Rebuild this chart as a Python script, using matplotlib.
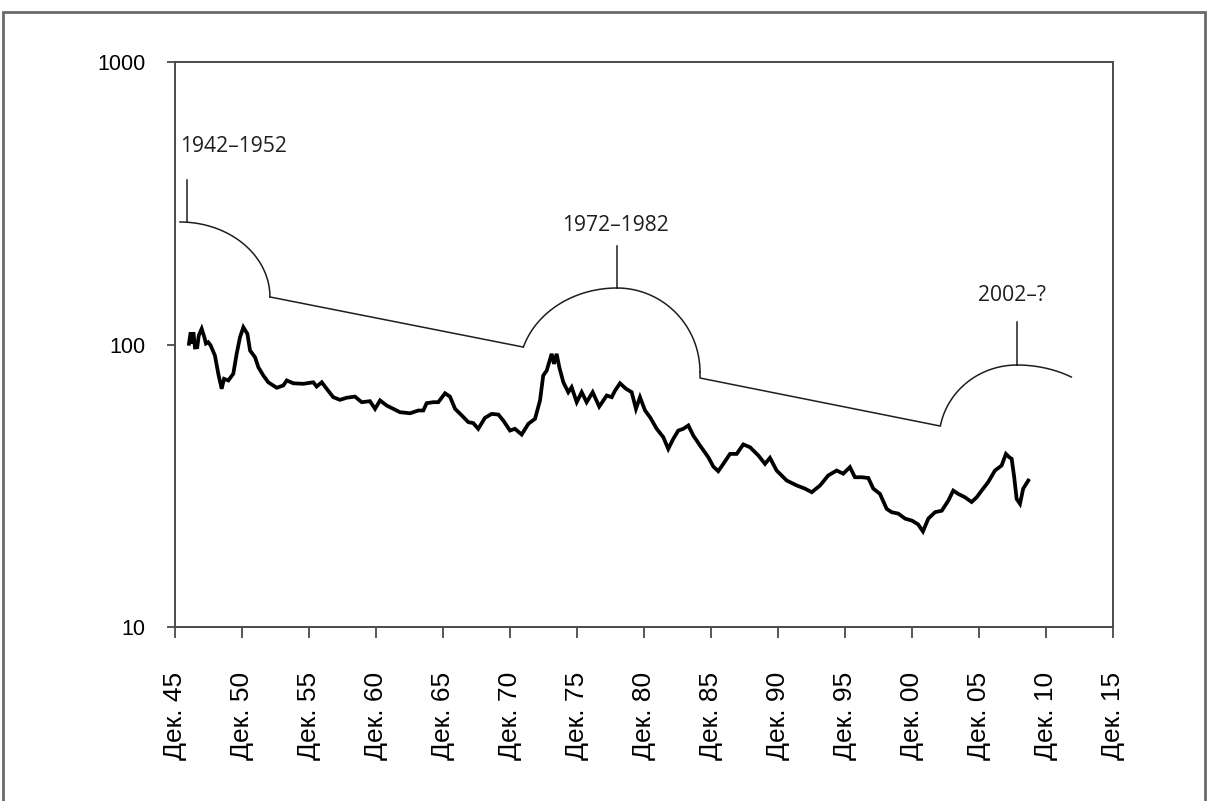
import numpy as np
import matplotlib
matplotlib.use("Agg")
import matplotlib.pyplot as plt
from matplotlib.patches import Rectangle

# monthly index level (log scale), decimal years
years = [1946.96, 1947.09, 1947.19, 1947.29, 1947.41, 1947.58, 1947.69, 1947.91, 1948.11, 1948.23,
         1948.40, 1948.58, 1948.90, 1949.15, 1949.40, 1949.58, 1949.90, 1950.27, 1950.52, 1950.77,
         1951.02, 1951.32, 1951.52, 1951.89, 1952.14, 1952.51, 1952.88, 1953.51, 1954.00, 1954.26,
         1954.75, 1955.49, 1956.24, 1956.49, 1956.87, 1957.24, 1957.73, 1958.23, 1958.73, 1959.35,
         1959.85, 1960.47, 1960.85, 1961.22, 1961.72, 1962.21, 1962.71, 1963.46, 1964.08, 1964.45,
         1964.70, 1965.20, 1965.57, 1966.07, 1966.44, 1966.82, 1967.32, 1967.81, 1968.18, 1968.55,
         1969.05, 1969.55, 1970.05, 1970.42, 1970.92, 1971.29, 1971.79, 1972.29, 1972.79, 1973.16,
         1973.40, 1973.66, 1974.03, 1974.20, 1974.40, 1974.60, 1974.90, 1975.27, 1975.52, 1975.90,
         1976.27, 1976.64, 1977.09, 1977.58, 1978.14, 1978.51, 1978.76, 1979.13, 1979.58, 1980.00,
         1980.32, 1980.62, 1981.00, 1981.37, 1981.87, 1982.36, 1982.73, 1983.11, 1983.48, 1983.85,
         1984.23, 1984.60, 1985.10, 1985.72, 1986.09, 1986.46, 1986.84, 1987.34, 1987.84, 1988.33,
         1988.83, 1989.45, 1989.95, 1990.32, 1990.82, 1991.57, 1992.32, 1992.93, 1993.44, 1994.06,
         1994.67, 1995.30, 1995.79, 1996.29, 1996.66, 1997.16, 1997.66, 1998.03, 1998.53, 1999.03,
         1999.40, 1999.90, 2000.40, 2000.92, 2001.37, 2001.74, 2002.14, 2002.64, 2003.14, 2003.63,
         2004.00, 2004.37, 2004.87, 2005.37, 2005.75, 2006.12, 2006.61, 2007.11, 2007.61, 2007.93,
         2008.18, 2008.36, 2008.55, 2008.73, 2008.98, 2009.22, 2009.60]
values = [100.6, 110.5, 100.8, 110.5, 97.6, 97.8, 107.6, 113.7, 106.1, 100.8,
          101.9, 99.2, 91.4, 78.8, 69.7, 75.6, 74.6, 78.8, 92.7, 106.1,
          115.1, 109.1, 95.2, 90.2, 83.1, 77.7, 73.5, 70.3, 71.6, 74.6,
          72.9, 72.6, 73.5, 71.0, 73.5, 69.7, 65.1, 63.7, 64.8, 65.4,
          62.5, 63.0, 59.2, 63.4, 60.8, 59.2, 57.6, 57.1, 58.4, 58.4,
          62.0, 62.5, 62.5, 67.2, 65.4, 59.2, 56.1, 53.1, 52.7, 50.3,
          55.0, 56.8, 56.5, 53.8, 49.6, 50.3, 48.0, 52.4, 54.6, 63.4,
          77.7, 80.9, 92.7, 85.4, 92.7, 83.1, 73.5, 67.8, 70.6, 62.5,
          67.8, 62.5, 67.8, 60.3, 66.0, 65.1, 68.7, 72.9, 69.7, 67.8,
          59.2, 65.1, 58.4, 55.3, 50.3, 47.0, 42.7, 46.4, 49.6, 50.3,
          51.7, 47.6, 43.9, 39.9, 37.0, 35.6, 37.8, 41.0, 41.0, 44.3,
          43.3, 40.5, 37.8, 39.7, 35.8, 33.0, 31.7, 30.9, 30.0, 31.7,
          34.4, 35.8, 34.9, 36.8, 33.9, 33.9, 33.7, 30.9, 29.6, 26.2,
          25.5, 25.2, 24.2, 23.8, 23.1, 21.8, 24.2, 25.5, 25.8, 28.0,
          30.4, 29.6, 28.8, 27.7, 28.8, 30.4, 32.6, 35.8, 37.3, 41.0,
          39.9, 39.4, 33.9, 28.4, 27.3, 30.9, 33.0]

tick_years = [1945.92 + 5 * i for i in range(15)]
tick_labels = ["Дек. " + s for s in
               ["45", "50", "55", "60", "65", "70", "75", "80", "85", "90", "95", "00", "05", "10", "15"]]
period_labels = ["1942–1952", "1972–1982", "2002–?"]

ink = "#1e1e1e"
axis_col = "#4a4a4a"

fig = plt.figure(figsize=(12.07, 8.01), dpi=100)
fig.patches.append(Rectangle((3 / 1207, -0.02), 1202 / 1207, 1 - 12 / 801 + 0.02,
                             transform=fig.transFigure, fill=False,
                             edgecolor="#6a6a6a", linewidth=2.0))
ax = fig.add_axes([0.1450, 0.2172, 0.7771, 0.7054])

ax.plot(years, values, color="black", linewidth=2.7, solid_joinstyle="miter")

ax.set_yscale("log")
ax.set_ylim(10, 1000)
ax.set_xlim(tick_years[0], tick_years[-1])
ax.set_yticks([10, 100, 1000])
ax.set_yticklabels(["10", "100", "1000"], fontfamily="Liberation Sans", fontsize=15.5)
ax.yaxis.set_minor_locator(matplotlib.ticker.NullLocator())
ax.set_xticks(tick_years)
ax.set_xticklabels(tick_labels, rotation=90, fontfamily="Liberation Sans", fontsize=19)
ax.tick_params(axis="x", length=8, width=1.3, color=axis_col, pad=24, direction="out")
ax.tick_params(axis="y", length=6, width=1.3, color=axis_col, pad=15, direction="out")
for s in ax.spines.values():
    s.set_color(axis_col)
    s.set_linewidth(1.4)


def arc(cx, cy, rx, ry, t0, t1):
    t = np.radians(np.linspace(t0, t1, 60))
    return cx + rx * np.cos(t), cy + ry * np.sin(t)


def draw(xs, ys):
    ax.plot(xs, ys, color=ink, linewidth=1.1, transform=ax.transAxes, clip_on=False)


# 1942-1952 bracket
x, y = arc(0.0053, 0.5841, 0.0959, 0.1327, 90, 0)
draw(x, y)
draw([0.1013, 0.3710], [0.5841, 0.4956])
draw([0.0128, 0.0128], [0.7168, 0.7912])

# 1972-1982 bracket
x, y = arc(0.4712, 0.4513, 0.1045, 0.1487, 162.7, 90)
draw(x, y)
x, y = arc(0.4712, 0.4513, 0.0885, 0.1487, 90, 0)
draw(x, y)
draw([0.5597, 0.5597, 0.8156], [0.4513, 0.4407, 0.3558])
draw([0.4712, 0.4712], [0.6000, 0.6743])

# 2002-? bracket
x, y = arc(0.8977, 0.3310, 0.0832, 0.1327, 169, 90)
draw(x, y)
x, y = arc(0.8977, 0.3310, 0.1066, 0.1327, 90, 57.1)
draw(x, y)
draw([0.8977, 0.8977], [0.4637, 0.5404])

txt = dict(transform=ax.transAxes, fontsize=15.2, fontfamily="Open Sans", color=ink, va="center")
ax.text(0.0053, 0.8496, period_labels[0], ha="left", **txt)
ax.text(0.4691, 0.7115, period_labels[1], ha="center", **txt)
ax.text(0.8928, 0.5876, period_labels[2], ha="center", **txt)

fig.savefig("out.png", dpi=100)
